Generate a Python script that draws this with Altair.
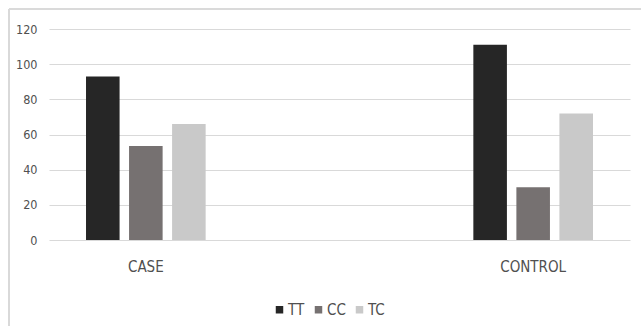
import altair as alt
import pandas as pd

groups = ["CASE", "CONTROL"]
axis_slots = ["CASE", " ", "CONTROL"]
genotypes = ["TT", "CC", "TC"]
colors = ["#262626", "#767171", "#c9c9c9"]
tt_values = [93, 111]
cc_values = [53.5, 30]
tc_values = [66, 72]
y_ticks = [0, 20, 40, 60, 80, 100, 120]

rows = []
for i, g in enumerate(groups):
    rows.append({"group": g, "genotype": "TT", "value": tt_values[i]})
    rows.append({"group": g, "genotype": "CC", "value": cc_values[i]})
    rows.append({"group": g, "genotype": "TC", "value": tc_values[i]})
df = pd.DataFrame(rows)

FONT = "DejaVu Sans Condensed, Liberation Sans Narrow, sans-serif"
TXT = "#505050"

bars = alt.Chart(df).mark_bar().encode(
    x=alt.X("group:N", scale=alt.Scale(domain=axis_slots, paddingInner=0, paddingOuter=0),
            axis=alt.Axis(title=None, labelAngle=0, ticks=False, domain=False, grid=False,
                          labelFontSize=15, labelColor=TXT, labelFont=FONT, labelPadding=19)),
    xOffset=alt.XOffset("genotype:N", scale=alt.Scale(domain=genotypes, paddingInner=0.22, paddingOuter=0.86)),
    y=alt.Y("value:Q", scale=alt.Scale(domain=[0, 120], nice=False),
            axis=alt.Axis(title=None, values=y_ticks, ticks=False, domain=False,
                          gridColor="#d9d9d9", gridWidth=1, labelFontSize=12.5,
                          labelColor=TXT, labelFont=FONT, labelPadding=12)),
    color=alt.Color("genotype:N", scale=alt.Scale(domain=genotypes, range=colors),
                    legend=alt.Legend(title=None, orient="none", direction="horizontal",
                                      legendX=223, legendY=273, symbolType="square",
                                      symbolSize=56, symbolStrokeWidth=0, labelFontSize=15,
                                      labelColor=TXT, labelFont=FONT, labelOffset=1,
                                      columnPadding=6)),
)

top_border = alt.Chart(df).mark_rule(color="#d9d9d9", strokeWidth=1.2).encode(
    x=alt.value(-40), x2=alt.value(600), y=alt.value(-20))
left_border = alt.Chart(df).mark_rule(color="#d9d9d9", strokeWidth=1.2).encode(
    x=alt.value(-40), y=alt.value(-20), y2=alt.value(300))

chart = alt.layer(top_border, left_border, bars).properties(
    width=581, height=211,
    autosize=alt.AutoSizeParams(type="none"),
    padding={"left": 49, "top": 29, "right": 11, "bottom": 86},
    background="white",
).configure_view(stroke=None)

chart.save("out.html", embed_options={"renderer": "svg", "actions": False})
